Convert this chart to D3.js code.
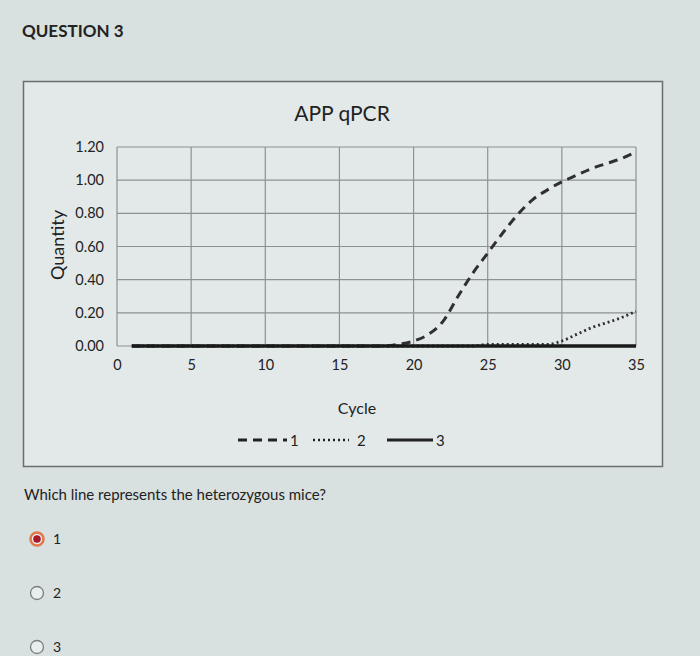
<!DOCTYPE html>
<html>
<head>
<meta charset="utf-8">
<script src="https://cdnjs.cloudflare.com/ajax/libs/d3/7.8.5/d3.min.js"></script>
<style>
  body { margin: 0; background: #d8e0e0; }
  svg { display: block; font-family: Lato, "Open Sans", sans-serif; }
</style>
</head>
<body>
<svg width="700" height="656"></svg>
<script>
// values
var cycles = [1,2,3,4,5,6,7,8,9,10,11,12,13,14,15,16,17,18,19,20,21,22,23,24,25,26,27,28,29,30,31,32,33,34,35];
var line1 = [0,0,0,0,0,0,0,0,0,0,0,0,0,0,0,0,0,0,0.01,0.03,0.07,0.15,0.30,0.44,0.56,0.68,0.79,0.88,0.94,0.99,1.03,1.07,1.10,1.13,1.17];
var line2 = [0,0,0,0,0,0,0,0,0,0,0,0,0,0,0,0,0,0,0,0,0,0,0,0,0.01,0.01,0.01,0.01,0.01,0.03,0.07,0.11,0.14,0.17,0.21];
var line3 = [0,0,0,0,0,0,0,0,0,0,0,0,0,0,0,0,0,0,0,0,0,0,0,0,0,0,0,0,0,0,0,0,0,0,0];
var xTicks = [0,5,10,15,20,25,30,35];
var yTicks = [0,0.2,0.4,0.6,0.8,1.0,1.2];
var options = ["1","2","3"];
var chosen = "1";

var svg = d3.select("svg");

// header
svg.append("text")
	.attr("x", 22).attr("y", 37)
	.attr("font-size", 17).attr("font-weight", "bold").attr("fill", "#222")
	.text("QUESTION 3");

// chart box
svg.append("rect")
	.attr("x", 23.5).attr("y", 81.5).attr("width", 639).attr("height", 385)
	.attr("fill", "#e3e9e9").attr("stroke", "#6a6e6e").attr("stroke-width", 1.5);

svg.append("text")
	.attr("x", 342).attr("y", 121)
	.attr("text-anchor", "middle").attr("font-size", 21).attr("fill", "#222")
	.text("APP qPCR");

var xScale = d3.scaleLinear().domain([0, 35]).range([117, 636]);
var yScale = d3.scaleLinear().domain([0, 1.2]).range([346, 147]);

// grid
var grid = svg.append("g").attr("stroke", "#8c9191").attr("stroke-width", 1.2);
grid.selectAll("line.h").data(yTicks).enter().append("line")
	.attr("x1", xScale(0)).attr("x2", xScale(35))
	.attr("y1", function(d){ return yScale(d); })
	.attr("y2", function(d){ return yScale(d); });
grid.selectAll("line.v").data(xTicks).enter().append("line")
	.attr("y1", yScale(0)).attr("y2", yScale(1.2))
	.attr("x1", function(d){ return xScale(d); })
	.attr("x2", function(d){ return xScale(d); });

// axes (labels only)
var xAxis = d3.axisBottom(xScale).tickValues(xTicks).tickSize(0).tickPadding(14);
var gx = svg.append("g").attr("transform", "translate(0," + yScale(0) + ")").call(xAxis);
var yAxis = d3.axisLeft(yScale).tickValues(yTicks).tickSize(0).tickPadding(13).tickFormat(d3.format(".2f"));
var gy = svg.append("g").attr("transform", "translate(" + xScale(0) + ",0)").call(yAxis);
[gx, gy].forEach(function(g){
	g.select(".domain").remove();
	g.attr("font-size", 14.5).attr("font-family", "Lato, sans-serif");
	g.selectAll("text").attr("fill", "#222");
});

svg.append("text")
	.attr("transform", "translate(64,245) rotate(-90)")
	.attr("text-anchor", "middle").attr("font-size", 18).attr("fill", "#222")
	.text("Quantity");

svg.append("text")
	.attr("x", 357).attr("y", 414)
	.attr("text-anchor", "middle").attr("font-size", 16).attr("fill", "#222")
	.text("Cycle");

// series
var line = d3.line()
	.x(function(d){ return xScale(d[0]); })
	.y(function(d){ return yScale(d[1]); })
	.curve(d3.curveMonotoneX);

var styles = [
	{ data: line1, dash: "9,6", width: 3, color: "#303030" },
	{ data: line2, dash: "2,3", width: 2.8, color: "#303030" },
	{ data: line3, dash: null, width: 3.6, color: "#1a1a1a" }
];
styles.forEach(function(s){
	svg.append("path")
		.datum(d3.zip(cycles, s.data))
		.attr("fill", "none")
		.attr("stroke", s.color)
		.attr("stroke-width", s.width)
		.attr("stroke-dasharray", s.dash)
		.attr("d", line);
});

// legend
var legend = svg.append("g").attr("transform", "translate(0,440)");
var legendItems = [
	{ x1: 238, x2: 287, label: "1", dash: "9,6", width: 3 },
	{ x1: 313, x2: 349, label: "2", dash: "2,3", width: 2.6 },
	{ x1: 387, x2: 433, label: "3", dash: null, width: 3.2 }
];
legendItems.forEach(function(d, i){
	legend.append("line")
		.attr("x1", d.x1).attr("x2", d.x2)
		.attr("stroke", "#222").attr("stroke-width", d.width)
		.attr("stroke-dasharray", d.dash);
	legend.append("text")
		.attr("x", d.x2 + (i == 1 ? 8 : 3)).attr("y", 5.5)
		.attr("font-size", 15).attr("fill", "#222")
		.text(d.label);
});

// question
svg.append("text")
	.attr("x", 24).attr("y", 500)
	.attr("font-size", 15).attr("fill", "#222")
	.text("Which line represents the heterozygous mice?");

var radio = svg.selectAll("g.radio").data(options).enter().append("g")
	.attr("transform", function(d, i){ return "translate(37," + (539 + i * 54) + ")"; });
radio.append("circle")
	.attr("r", 6.5)
	.attr("fill", "#e8eded")
	.attr("stroke", function(d){ return d == chosen ? "#e2774a" : "#7a7f7f"; })
	.attr("stroke-width", function(d){ return d == chosen ? 2.5 : 1.3; });
radio.filter(function(d){ return d == chosen; }).append("circle")
	.attr("r", 3.8).attr("fill", "#a8182a");
radio.append("text")
	.attr("x", 16).attr("y", 5)
	.attr("font-size", 14).attr("fill", "#222")
	.text(function(d){ return d; });
</script>
</body>
</html>
